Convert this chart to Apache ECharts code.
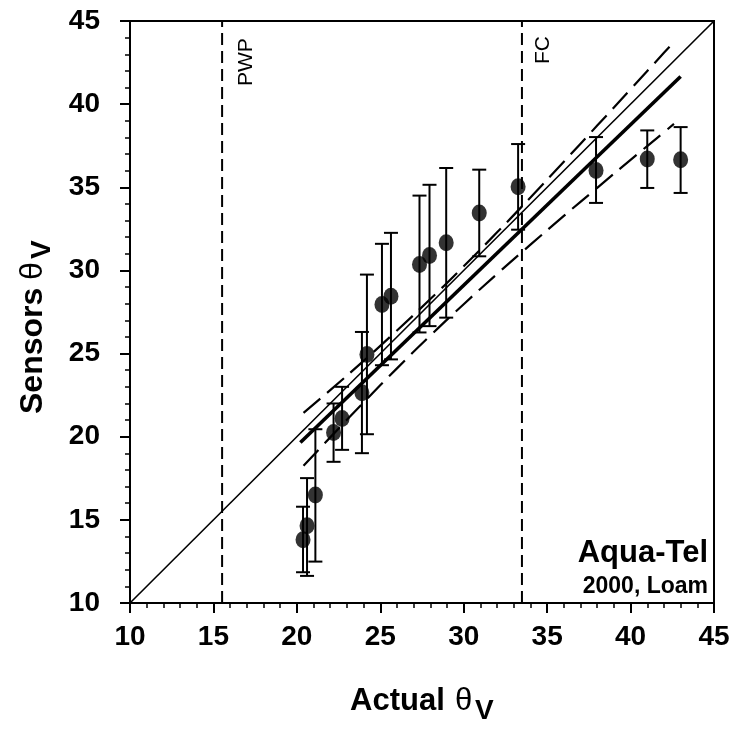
<!DOCTYPE html>
<html>
<head>
<meta charset="utf-8">
<script src="https://cdn.jsdelivr.net/npm/echarts@6/dist/echarts.min.js"></script>
<style>
  html, body { margin: 0; padding: 0; background: #fff; }
  #chart { width: 735px; height: 739px; }
</style>
</head>
<body>
<div id="chart"></div>
<script>
// Measured water content: actual vs. sensor reading (Aqua-Tel, 2000, loam)
const actual  = [20.37, 20.61, 21.11, 22.20, 22.71, 23.90, 24.20, 25.10, 25.64, 27.35, 27.95, 28.95, 30.93, 33.26, 37.93, 41.00, 43.00];
const sensor  = [13.81, 14.65, 16.49, 20.25, 21.09, 22.65, 24.95, 27.95, 28.45, 30.35, 30.90, 31.66, 33.46, 35.03, 36.01, 36.70, 36.66];
const errLow  = [11.85, 11.63, 12.49, 18.49, 19.21, 19.01, 20.15, 24.30, 24.65, 26.27, 26.65, 27.16, 30.85, 32.45, 34.06, 34.96, 34.66];
const errHigh = [15.79, 17.51, 20.45, 22.00, 23.00, 26.30, 29.75, 31.60, 32.26, 34.50, 35.15, 36.16, 36.06, 37.60, 38.02, 38.42, 38.62];

// Regression line end points
const fitX = [20.21, 43.00];
const fitY = [19.65, 41.66];

// Confidence band of the regression
const bandX     = [20.40, 22.00, 24.00, 26.00, 28.00, 30.00, 32.00, 34.00, 36.00, 38.00, 40.00, 42.00, 42.60];
const bandUpper = [21.43, 22.80, 24.56, 26.39, 28.28, 30.25, 32.29, 34.39, 36.54, 38.71, 40.89, 43.09, 43.75];
const bandLower = [18.25, 19.96, 22.06, 24.11, 26.08, 27.97, 29.79, 31.55, 33.28, 34.97, 36.65, 38.31, 38.81];

// 1:1 reference line
const oneToOne = [10, 45];

// Permanent wilting point and field capacity
const pwp = 15.52;
const fc  = 33.49;

const axisMin = 10, axisMax = 45, axisStep = 5;

const FONT = '"Liberation Sans", Arial, sans-serif';

const chart = echarts.init(document.getElementById('chart'), null, { renderer: 'canvas' });

const pairs = (xs, ys) => xs.map((x, i) => [x, ys[i]]);

const valueAxis = (labelMargin) => ({
  type: 'value',
  min: axisMin,
  max: axisMax,
  interval: axisStep,
  axisLine: { show: true, lineStyle: { color: '#000', width: 2 } },
  axisTick: { show: true, length: 10, lineStyle: { color: '#000', width: 2 } },
  minorTick: { show: true, splitNumber: 5, length: 5, lineStyle: { color: '#000', width: 1.5 } },
  splitLine: { show: false },
  axisLabel: { color: '#000', fontFamily: FONT, fontWeight: 'bold', fontSize: 28, margin: labelMargin }
});

const option = {
  animation: false,
  backgroundColor: '#fff',
  grid: { left: 130, right: 21, top: 21, bottom: 136, show: true, borderColor: '#000', borderWidth: 2 },
  xAxis: valueAxis(20),
  yAxis: valueAxis(30),
  series: [
    {
      name: '1:1',
      type: 'line',
      data: pairs(oneToOne, oneToOne),
      symbol: 'none',
      lineStyle: { color: '#000', width: 1.6 },
      z: 2
    },
    {
      name: 'PWP',
      type: 'line',
      data: [[pwp, axisMin], [pwp, axisMax]],
      symbol: 'none',
      lineStyle: { color: '#000', width: 2, type: [12, 6] },
      z: 2
    },
    {
      name: 'FC',
      type: 'line',
      data: [[fc, axisMin], [fc, axisMax]],
      symbol: 'none',
      lineStyle: { color: '#000', width: 2, type: [12, 6] },
      z: 2
    },
    {
      name: 'fit',
      type: 'line',
      data: pairs(fitX, fitY),
      symbol: 'none',
      lineStyle: { color: '#000', width: 3.6 },
      z: 3
    },
    {
      name: 'upper',
      type: 'line',
      data: pairs(bandX, bandUpper),
      symbol: 'none',
      smooth: true,
      lineStyle: { color: '#000', width: 2.2, type: [22, 9] },
      z: 3
    },
    {
      name: 'lower',
      type: 'line',
      data: pairs(bandX, bandLower),
      symbol: 'none',
      smooth: true,
      lineStyle: { color: '#000', width: 2.2, type: [22, 9] },
      z: 3
    },
    {
      name: 'error',
      type: 'custom',
      data: actual.map((x, i) => [x, errLow[i], errHigh[i]]),
      renderItem: function (params, api) {
        const x = api.value(0);
        const lo = api.coord([x, api.value(1)]);
        const hi = api.coord([x, api.value(2)]);
        const cap = 7;
        const style = { stroke: '#000', lineWidth: 2 };
        return {
          type: 'group',
          children: [
            { type: 'line', shape: { x1: lo[0], y1: lo[1], x2: hi[0], y2: hi[1] }, style: style },
            { type: 'line', shape: { x1: lo[0] - cap, y1: lo[1], x2: lo[0] + cap, y2: lo[1] }, style: style },
            { type: 'line', shape: { x1: hi[0] - cap, y1: hi[1], x2: hi[0] + cap, y2: hi[1] }, style: style }
          ]
        };
      },
      z: 4
    },
    {
      name: 'sensor',
      type: 'scatter',
      data: pairs(actual, sensor),
      symbol: 'circle',
      symbolSize: [15, 17],
      itemStyle: { color: '#000' },
      z: 5
    }
  ],
  graphic: [
    // x-axis title: Actual θV
    { type: 'text', x: 350, y: 686, style: { text: 'Actual', font: 'bold 31px ' + FONT, fill: '#000' } },
    { type: 'text', x: 455, y: 686, style: { text: 'θ', font: 'normal 31px ' + FONT, fill: '#000' } },
    { type: 'text', x: 475, y: 697, style: { text: 'V', font: 'bold 28px ' + FONT, fill: '#000' } },
    // y-axis title: Sensors θV
    { type: 'text', x: 17, y: 414, rotation: Math.PI / 2, style: { text: 'Sensors', font: 'bold 32px ' + FONT, fill: '#000' } },
    { type: 'text', x: 17, y: 280, rotation: Math.PI / 2, style: { text: 'θ', font: 'normal 32px ' + FONT, fill: '#000' } },
    { type: 'text', x: 28, y: 259, rotation: Math.PI / 2, style: { text: 'V', font: 'bold 28px ' + FONT, fill: '#000' } },
    // reference line labels
    { type: 'text', x: 236, y: 86, rotation: Math.PI / 2, style: { text: 'PWP', font: '21px ' + FONT, fill: '#000' } },
    { type: 'text', x: 533, y: 64, rotation: Math.PI / 2, style: { text: 'FC', font: '21px ' + FONT, fill: '#000' } },
    // sensor / soil caption
    { type: 'text', right: 27, top: 538, style: { text: 'Aqua-Tel', font: 'bold 31px ' + FONT, fill: '#000' } },
    { type: 'text', right: 27, top: 575, style: { text: '2000, Loam', font: 'bold 23px ' + FONT, fill: '#000' } }
  ]
};

chart.setOption(option);
</script>
</body>
</html>
